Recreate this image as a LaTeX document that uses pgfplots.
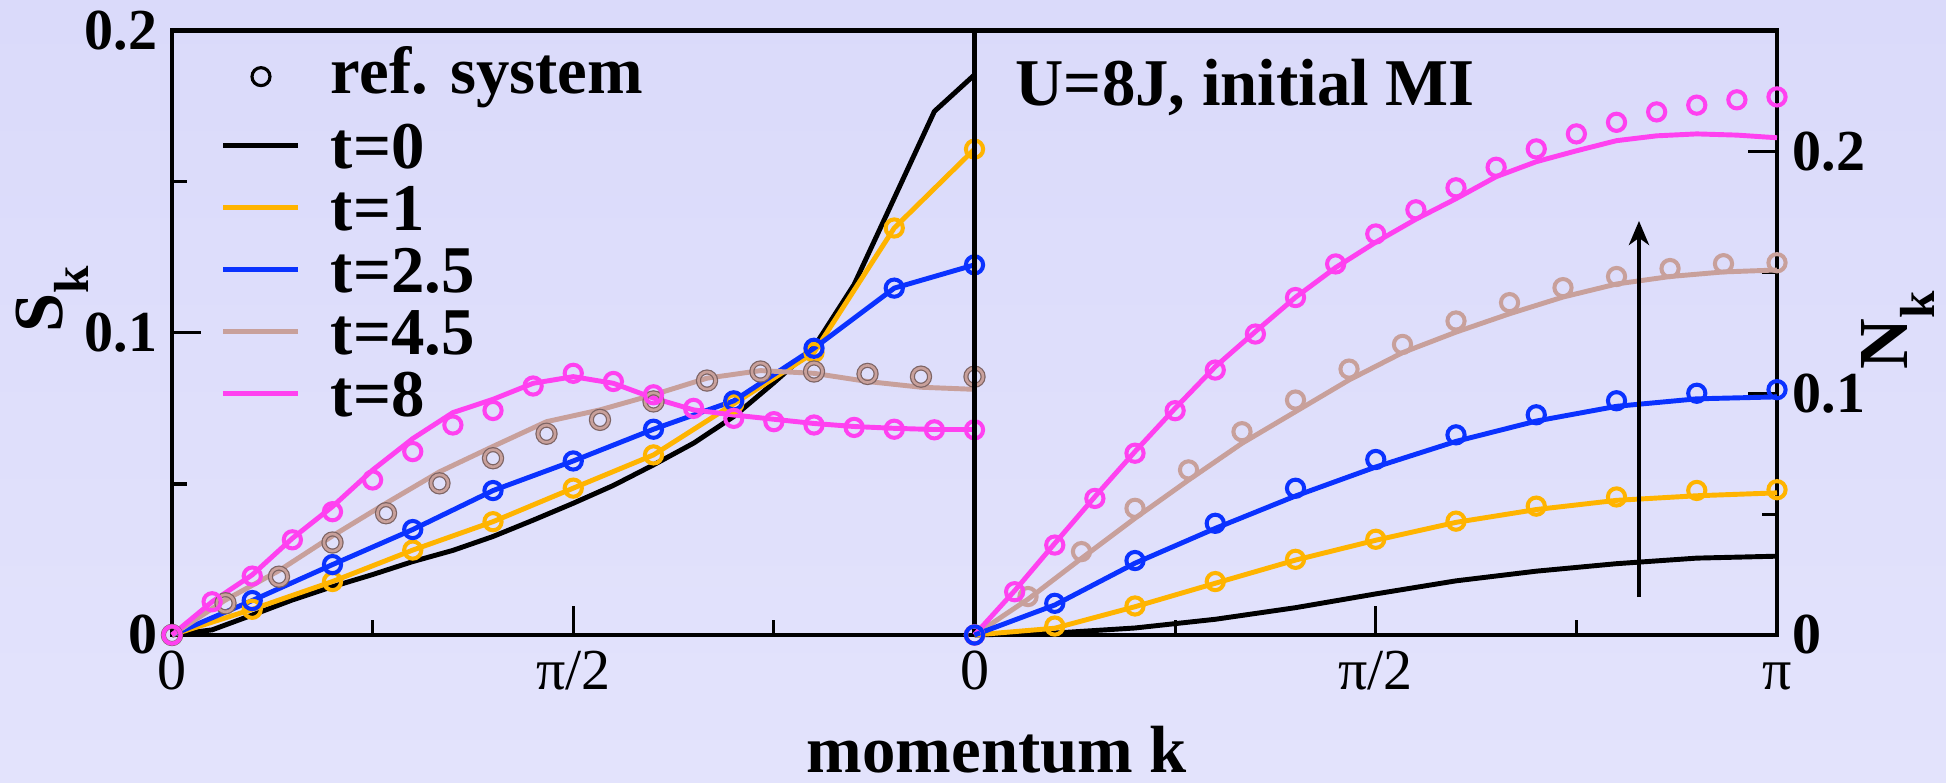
\documentclass[border=0pt]{standalone}
\usepackage{fontspec}
\setmainfont{Liberation Serif}
\usepackage{pgfplots}
\pgfplotsset{compat=1.18}
\usepackage{pgfplotstable}
\usetikzlibrary{arrows.meta}

\definecolor{cOrange}{RGB}{255,180,0}
\definecolor{cBlue}{RGB}{10,50,255}
\definecolor{cBrown}{RGB}{200,160,155}
\definecolor{cBrownDark}{RGB}{125,100,100}
\definecolor{cMagenta}{RGB}{255,65,240}
\definecolor{bgTop}{RGB}{218,218,250}
\definecolor{bgBot}{RGB}{227,227,252}

\newcommand\labfont{\fontsize{19}{19}\selectfont\bfseries}
\newcommand\tickfont{\fontsize{16.5}{16.5}\selectfont}
\newcommand\symfont{\fontsize{20}{20}\selectfont\bfseries}
\newcommand\subk{\raisebox{-7.5pt}{\fontsize{14}{14}\selectfont k}}

% k is given in units of pi
% structure factor S_k, grid pi/20
\pgfplotstableread{
k     black   mag     magref
0.00  0       0       0
0.05  0.0017  0.0110  0.0110
0.10  0.0066  0.0199  0.0195
0.15  0.0116  0.0320  0.0315
0.20  0.0160  0.0425  0.0408
0.25  0.0200  0.0546  0.0513
0.30  0.0243  0.0650  0.0607
0.35  0.0280  0.0736  0.0695
0.40  0.0326  0.0780  0.0743
0.45  0.0380  0.0833  0.0824
0.50  0.0436  0.0855  0.0866
0.55  0.0495  0.0833  0.0839
0.60  0.0563  0.0784  0.0795
0.65  0.0635  0.0745  0.0750
0.70  0.0723  0.0728  0.0717
0.75  0.0835  0.0714  0.0706
0.80  0.0953  0.0700  0.0695
0.85  0.1160  0.0690  0.0687
0.90  0.1446  0.0684  0.0681
0.95  0.1733  0.0680  0.0679
1.00  0.1854  0.0680  0.0679
}\leftTwenty

% S_k, grid pi/15
\pgfplotstableread{
k       brown   brownref
0       0       0
0.0667  0.0116  0.0105
0.1333  0.0213  0.0193
0.2000  0.0328  0.0306
0.2667  0.0436  0.0403
0.3333  0.0540  0.0502
0.4000  0.0624  0.0585
0.4667  0.0706  0.0666
0.5333  0.0745  0.0712
0.6000  0.0795  0.0773
0.6667  0.0850  0.0842
0.7333  0.0875  0.0872
0.8000  0.0866  0.0872
0.8667  0.0839  0.0864
0.9333  0.0820  0.0855
1.0000  0.0813  0.0855
}\leftFifteen

% S_k, grid pi/10
\pgfplotstableread{
k    orange  blue
0.0  0       0
0.1  0.0085  0.0114
0.2  0.0177  0.0233
0.3  0.0281  0.0349
0.4  0.0375  0.0478
0.5  0.0486  0.0576
0.6  0.0596  0.0681
0.7  0.0765  0.0775
0.8  0.0935  0.0949
0.9  0.1347  0.1148
1.0  0.1608  0.1225
}\leftTen

% N_k, grid pi/20
\pgfplotstableread{
k     mag     magref
0.00  0       0
0.05  0.0183  0.0179
0.10  0.0379  0.0372
0.15  0.0572  0.0565
0.20  0.0759  0.0752
0.25  0.0938  0.0928
0.30  0.1110  0.1096
0.35  0.1255  0.1245
0.40  0.1397  0.1396
0.45  0.1520  0.1535
0.50  0.1625  0.1659
0.55  0.1720  0.1759
0.60  0.1805  0.1850
0.65  0.1896  0.1935
0.70  0.1958  0.2011
0.75  0.2003  0.2073
0.80  0.2045  0.2121
0.85  0.2065  0.2164
0.90  0.2073  0.2192
0.95  0.2068  0.2214
1.00  0.2057  0.2226
}\rightTwenty

% N_k, grid pi/15
\pgfplotstableread{
k       brown   brownref
0       0       0
0.0667  0.0148  0.0159
0.1333  0.0317  0.0345
0.2000  0.0483  0.0524
0.2667  0.0641  0.0683
0.3333  0.0793  0.0841
0.4000  0.0924  0.0972
0.4667  0.1055  0.1100
0.5333  0.1168  0.1202
0.6000  0.1253  0.1299
0.6667  0.1329  0.1375
0.7333  0.1398  0.1437
0.8000  0.1452  0.1483
0.8667  0.1483  0.1516
0.9333  0.1502  0.1536
1.0000  0.1510  0.1540
}\rightFifteen

% N_k, grid pi/10
\pgfplotstableread{
k    black   orange  orangeref  blue    blueref
0.0  0       0       0          0       0
0.1  0.0008  0.0028  0.0037     0.0124  0.0131
0.2  0.0029  0.0117  0.0120     0.0297  0.0308
0.3  0.0065  0.0214  0.0221     0.0441  0.0462
0.4  0.0113  0.0310  0.0313     0.0575  0.0607
0.5  0.0170  0.0392  0.0396     0.0695  0.0726
0.6  0.0224  0.0466  0.0471     0.0801  0.0828
0.7  0.0264  0.0519  0.0533     0.0885  0.0911
0.8  0.0295  0.0557  0.0571     0.0946  0.0969
0.9  0.0318  0.0576  0.0598     0.0977  0.1000
1.0  0.0326  0.0588  0.0601     0.0985  0.1015
}\rightTen

\pgfplotsset{
  curve/.style={line width=1.4pt, mark=none, forget plot},
  refmarks/.style={only marks, mark=o, mark size=2.45pt,
    mark options={line width=1.15pt, solid}, forget plot},
  panel/.style={
    scale only axis, width=8.025cm, height=6.043cm,
    xmin=0, xmax=1, ymin=0,
    clip=false,
    axis line style={line width=1.4pt},
    tick style={black, line width=0.9pt},
    major tick length=0.29cm, minor tick length=0.15cm,
    xtick pos=left,
    minor xtick={0.25,0.75},
    ytick={0,0.1,0.2}, yticklabels={0,0.1,0.2},
    minor ytick={0.05,0.15},
    xticklabel style={font=\tickfont, anchor=base, inner sep=0pt, yshift=-0.55cm},
  },
}

\begin{document}
\begin{tikzpicture}
\shade[top color=bgTop, bottom color=bgBot] (0,0) rectangle (19.46,7.83);
\path[use as bounding box] (0,0) rectangle (19.46,7.83);

% ---------- left panel: S_k ----------
\begin{axis}[
  panel,
  at={(1.72cm,1.48cm)}, anchor=south west,
  ymax=0.2,
  ytick pos=left,
  xtick={0,0.5}, xticklabels={0,π/2},
  yticklabel style={font=\tickfont\bfseries, anchor=east, inner sep=0pt, xshift=-0.14cm},
  xlabel={momentum k},
  every axis x label/.style={at={(axis description cs:1.028,-0.2276)},
    anchor=base, inner sep=0pt, font=\labfont},
  ylabel={S\subk},
  every axis y label/.style={at={(axis description cs:-0.1364,0.5)},
    anchor=base west, rotate=90, inner sep=0pt, font=\symfont},
  legend style={at={(axis description cs:0.0611,0.9499)}, anchor=north west,
    draw=none, fill=none, inner sep=0pt, outer sep=0pt,
    row sep=4.74pt, column sep=0.30cm, font=\labfont,
    nodes={inner sep=0pt, text height=12.9pt, text depth=0pt}},
  legend cell align=left,
  legend image code/.code={\draw[#1] (0cm,0cm) -- (0.75cm,0cm);},
]
\addlegendimage{legend image code/.code={\draw[black, line width=0.9pt] (0.375cm,0.07cm) circle (0.09cm);}}
\addlegendentry{\raisebox{0.13cm}{ref. system}}
\addlegendimage{black, line width=1.4pt}\addlegendentry{t=0}
\addlegendimage{cOrange, line width=1.4pt}\addlegendentry{t=1}
\addlegendimage{cBlue, line width=1.4pt}\addlegendentry{t=2.5}
\addlegendimage{cBrown, line width=1.4pt}\addlegendentry{t=4.5}
\addlegendimage{cMagenta, line width=1.4pt}\addlegendentry{t=8}

\addplot[curve, black] table[x=k, y=black] {\leftTwenty};
\addplot[curve, cOrange] table[x=k, y=orange] {\leftTen};
\addplot[refmarks, cOrange] table[x=k, y=orange] {\leftTen};
\addplot[curve, cBlue] table[x=k, y=blue] {\leftTen};
\addplot[refmarks, cBlue] table[x=k, y=blue] {\leftTen};
\addplot[curve, cBrown] table[x=k, y=brown] {\leftFifteen};
\addplot[refmarks, cBrownDark, mark options={line width=1.45pt}] table[x=k, y=brownref] {\leftFifteen};
\addplot[refmarks, cBrown, mark options={line width=0.75pt}] table[x=k, y=brownref] {\leftFifteen};
\addplot[curve, cMagenta] table[x=k, y=mag] {\leftTwenty};
\addplot[refmarks, cMagenta] table[x=k, y=magref] {\leftTwenty};
\end{axis}

% ---------- right panel: N_k ----------
\begin{axis}[
  panel,
  at={(9.745cm,1.48cm)}, anchor=south west,
  ymax=0.25,
  ytick pos=right, yticklabel pos=right,
  xtick={0,0.5,1}, xticklabels={0,π/2,π},
  yticklabel style={font=\tickfont\bfseries, anchor=west, inner sep=0pt, xshift=0.15cm},
  ylabel={N\subk},
  every axis y label/.style={at={(axis description cs:1.1632,0.4385)},
    anchor=base west, rotate=90, inner sep=0pt, font=\symfont},
]
\addplot[curve, black] table[x=k, y=black] {\rightTen};
\addplot[curve, cOrange] table[x=k, y=orange] {\rightTen};
\addplot[refmarks, cOrange] table[x=k, y=orangeref] {\rightTen};
\addplot[curve, cBrown] table[x=k, y=brown] {\rightFifteen};
\addplot[refmarks, cBrown] table[x=k, y=brownref] {\rightFifteen};
\addplot[curve, cMagenta] table[x=k, y=mag] {\rightTwenty};
\addplot[refmarks, cMagenta] table[x=k, y=magref] {\rightTwenty};
\addplot[curve, cBlue] table[x=k, y=blue] {\rightTen};
\addplot[refmarks, cBlue] table[x=k, y=blueref] {\rightTen};

\node[anchor=base west, inner sep=0pt, font=\labfont]
  at (axis description cs:0.0505,0.877) {U=8J, initial MI};
\draw[line width=1.2pt, -{Stealth[length=0.24cm, width=0.2cm, inset=0.07cm]}]
  (axis cs:0.828,0.0157) -- (axis cs:0.828,0.1713);
\end{axis}
\end{tikzpicture}
\end{document}
